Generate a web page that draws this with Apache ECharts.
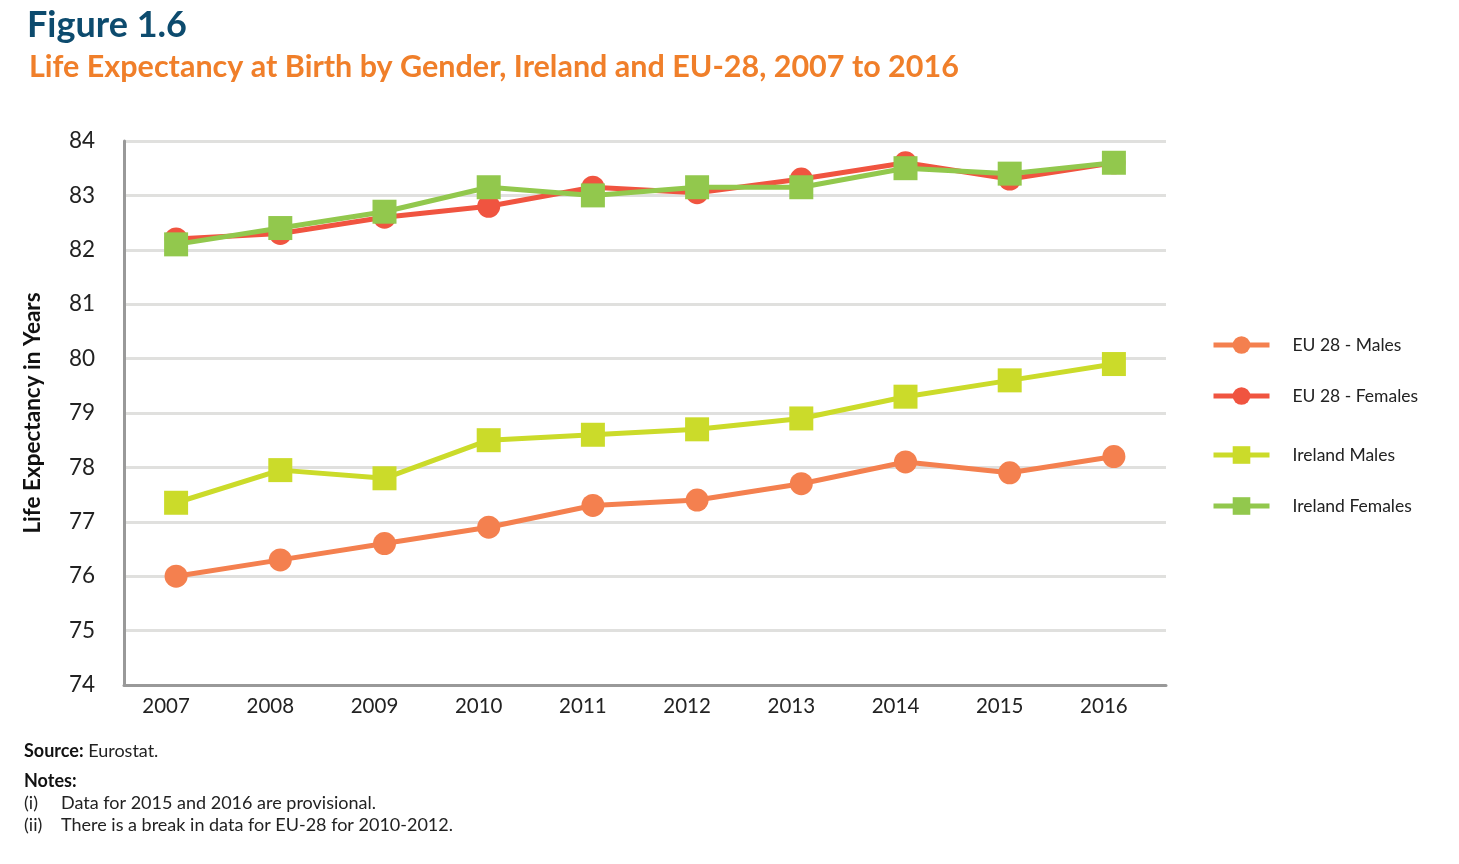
<!DOCTYPE html>
<html><head><meta charset="utf-8">
<script src="https://cdn.jsdelivr.net/npm/echarts@6/dist/echarts.min.js"></script>
<style>html,body{margin:0;padding:0;background:#fff}#c{width:1459px;height:864px}</style>
</head><body><div id="c"></div>
<script>
const years = ['2007','2008','2009','2010','2011','2012','2013','2014','2015','2016'];
const euMales = [76.0, 76.3, 76.6, 76.9, 77.3, 77.4, 77.7, 78.1, 77.9, 78.2];
const euFemales = [82.2, 82.3, 82.6, 82.8, 83.15, 83.05, 83.3, 83.6, 83.3, 83.6];
const ieMales = [77.35, 77.95, 77.8, 78.5, 78.6, 78.7, 78.9, 79.3, 79.6, 79.9];
const ieFemales = [82.1, 82.4, 82.7, 83.15, 83.0, 83.15, 83.15, 83.5, 83.4, 83.6];
const names = ['EU 28 - Males','EU 28 - Females','Ireland Males','Ireland Females'];
const colors = ['#F4804F','#F05440','#CBDB2A','#92C84D'];
const font = 'Lato, "Open Sans", sans-serif';

const chart = echarts.init(document.getElementById('c'));
function mk(i, data, sym, size){
  return {name:names[i], type:'line', data:data, symbol:sym, symbolSize:size,
    lineStyle:{width:5,color:colors[i]}, itemStyle:{color:colors[i]}, z:2+i};
}
const legendTops = [331, 382, 441, 492];
chart.setOption({
  animation:false,
  textStyle:{fontFamily:font},
  title:[
    {text:'Figure 1.6', left:22, top:2, textStyle:{fontFamily:font, fontSize:36, fontWeight:'bold', color:'#0D4B6E'}},
    {text:'Life Expectancy at Birth by Gender, Ireland and EU-28, 2007 to 2016', left:24, top:47, textStyle:{fontFamily:font, fontSize:30.5, fontWeight:'bold', color:'#F07F2A'}}
  ],
  legend: names.map((n,i)=>({data:[n], left:1206, top:legendTops[i], orient:'vertical', itemWidth:56, itemHeight:22,
    lineStyle:{width:5},
    textStyle:{fontFamily:font, fontSize:17.5, color:'#222', padding:[0,0,0,18]}})),
  grid:{left:124, right:293, top:141, bottom:179},
  xAxis:{type:'category', data:years, boundaryGap:true,
    axisLine:{lineStyle:{color:'#999', width:3}}, axisTick:{show:false},
    axisLabel:{fontFamily:font, fontSize:20.5, color:'#222', margin:11, padding:[0,20,0,0]}},
  yAxis:{type:'value', min:74, max:84, interval:1,
    name:'Life Expectancy in Years', nameLocation:'middle', nameGap:80,
    nameTextStyle:{fontFamily:font, fontSize:22.5, fontWeight:'bold', color:'#111'},
    axisLine:{show:true, lineStyle:{color:'#999', width:3}}, axisTick:{show:false},
    axisLabel:{fontFamily:font, fontSize:22.5, color:'#222', margin:29},
    splitLine:{lineStyle:{color:'#E0E0DE', width:3}}},
  series:[
    mk(0, euMales, 'circle', 23),
    mk(1, euFemales, 'circle', 23),
    mk(2, ieMales, 'rect', 24),
    mk(3, ieFemales, 'rect', 24)
  ],
  graphic:[
    {type:'text', left:24, top:742, style:{text:'{b|Source:} Eurostat.', rich:{b:{fontWeight:'bold', fontFamily:font, fontSize:18, fill:'#111'}}, font:'18px '+font, fill:'#222'}},
    {type:'text', left:24, top:772, style:{text:'Notes:', font:'bold 18px '+font, fill:'#111'}},
    {type:'text', left:24, top:794, style:{text:'(i)', font:'18px '+font, fill:'#222'}},
    {type:'text', left:61, top:794, style:{text:'Data for 2015 and 2016 are provisional.', font:'18px '+font, fill:'#222'}},
    {type:'text', left:24, top:816, style:{text:'(ii)', font:'18px '+font, fill:'#222'}},
    {type:'text', left:61, top:816, style:{text:'There is a break in data for EU-28 for 2010-2012.', font:'18px '+font, fill:'#222'}}
  ]
});
</script></body></html>
